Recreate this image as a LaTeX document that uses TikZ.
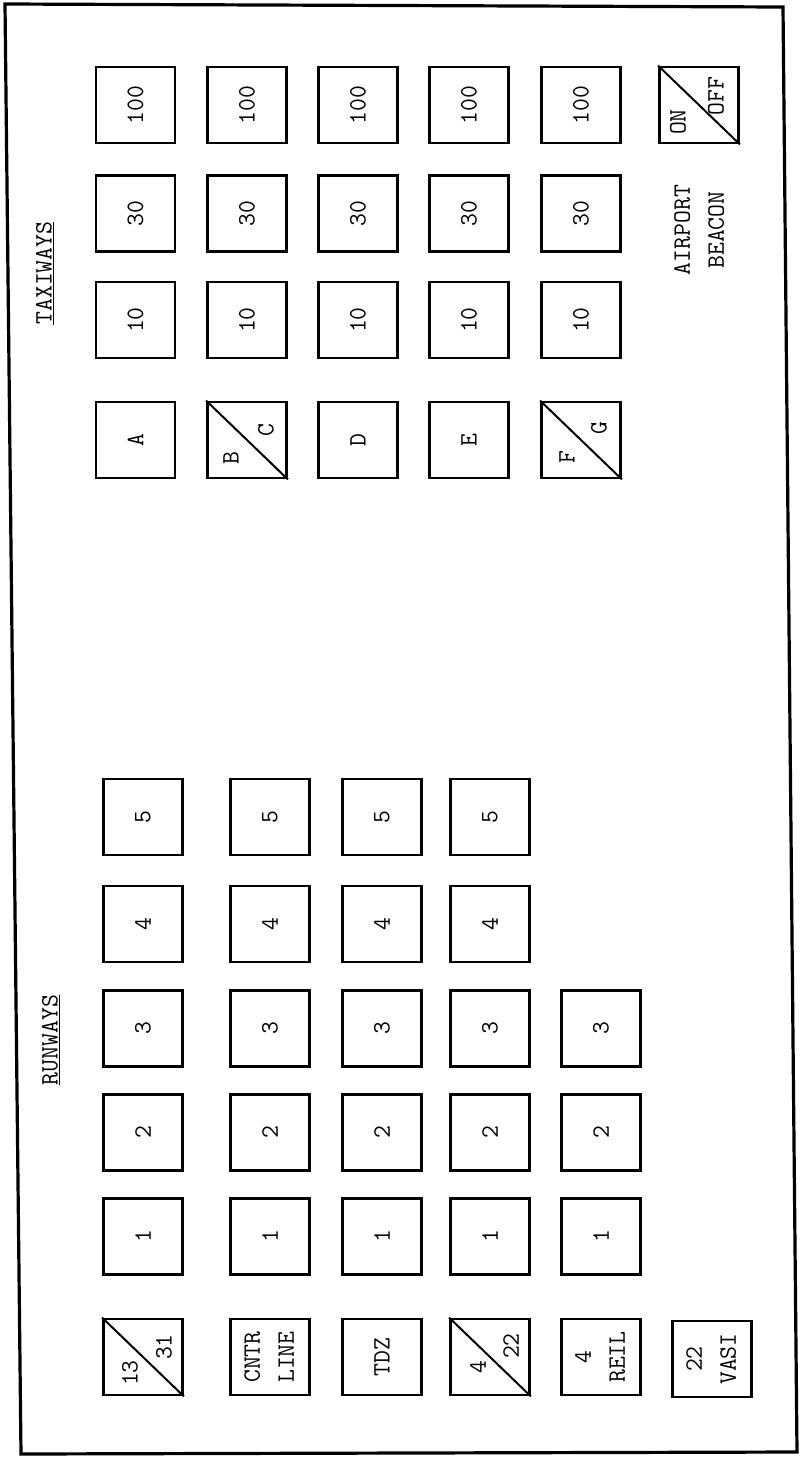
\documentclass[tikz,border=0pt]{standalone}
\usetikzlibrary{calc}
\newcommand\rtext[1]{\rotatebox{90}{#1}}
\newcommand\rtwo[2]{\rotatebox{90}{\begin{tabular}{@{}c@{}}#1\\#2\end{tabular}}}
\begin{document}
\begin{tikzpicture}[x=1pt,y=-1pt,
  panelbox/.style={draw,line width=2.8pt,minimum width=79pt,minimum height=76pt,inner sep=0pt,font=\ttfamily\fontsize{25}{34}\selectfont},
  splitlabel/.style={inner sep=0pt,font=\ttfamily\fontsize{25}{34}\selectfont},
  heading/.style={inner sep=0pt,font=\ttfamily\fontsize{25}{34}\selectfont},
  diag/.style={line width=2pt}]
\useasboundingbox (0,0) rectangle (801,1457);
\draw[line width=3.2pt,line join=miter] (5,4) -- (783,7) -- (797,1452) -- (21,1454) -- cycle;

% ---------------- TAXIWAYS ----------------
\node[heading] (taxihead) at (45,273) {\rtext{\underline{TAXIWAYS}}};
\foreach \c/\x in {1/135.5,2/247,3/358,4/469,5/581}{
  \node[panelbox] (t100-\c) at (\x,105) {\rtext{100}};
  \node[panelbox] (t30-\c) at (\x,213.5) {\rtext{30}};
  \node[panelbox] (t10-\c) at (\x,320) {\rtext{10}};
}
\node[panelbox] (tA) at (135.5,440) {\rtext{A}};
\node[panelbox] (tD) at (358,440) {\rtext{D}};
\node[panelbox] (tE) at (469,440) {\rtext{E}};
\node[panelbox] (tBC) at (247,440) {};
\draw[diag] (tBC.north west) -- (tBC.south east);
\node[splitlabel] (tB) at ($(tBC.center)+(-16,18)$) {\rtext{B}};
\node[splitlabel] (tC) at ($(tBC.center)+(19,-10)$) {\rtext{C}};
\node[panelbox] (tFG) at (581,440) {};
\draw[diag] (tFG.north west) -- (tFG.south east);
\node[splitlabel] (tF) at ($(tFG.center)+(-14,17)$) {\rtext{F}};
\node[splitlabel] (tG) at ($(tFG.center)+(18,-12)$) {\rtext{G}};
% airport beacon
\node[panelbox] (onoff) at (699,105) {};
\draw[diag] (onoff.north west) -- (onoff.south east);
\node[splitlabel] (on) at ($(onoff.center)+(-21,17)$) {\rtext{ON}};
\node[splitlabel] (off) at ($(onoff.center)+(17,-9)$) {\rtext{OFF}};
\node[heading] (beacon) at (700,230) {\rtwo{AIRPORT}{BEACON}};

% ---------------- RUNWAYS ----------------
\node[heading] (runhead) at (51,1040) {\rtext{\underline{RUNWAYS}}};
\foreach \c/\x in {1/143,2/270,3/382,4/490}{
  \node[panelbox] (r5-\c) at (\x,817) {\rtext{5}};
  \node[panelbox] (r4-\c) at (\x,924) {\rtext{4}};
}
\foreach \c/\x in {1/143,2/270,3/382,4/490,5/601}{
  \node[panelbox] (r3-\c) at (\x,1028.5) {\rtext{3}};
  \node[panelbox] (r2-\c) at (\x,1132.5) {\rtext{2}};
  \node[panelbox] (r1-\c) at (\x,1236.5) {\rtext{1}};
}
\node[panelbox] (rw1331) at (143,1357) {};
\draw[diag] (rw1331.north west) -- (rw1331.south east);
\node[splitlabel] (r13) at ($(rw1331.center)+(-13,16)$) {\rtext{13}};
\node[splitlabel] (r31) at ($(rw1331.center)+(21,-10)$) {\rtext{31}};
\node[panelbox] (cntr) at (270,1357) {\rtwo{CNTR}{LINE}};
\node[panelbox] (tdz) at (382,1357) {\rtext{TDZ}};
\node[panelbox] (rw422) at (490,1357) {};
\draw[diag] (rw422.north west) -- (rw422.south east);
\node[splitlabel] (r4l) at ($(rw422.center)+(-12,10)$) {\rtext{4}};
\node[splitlabel] (r22) at ($(rw422.center)+(21,-11)$) {\rtext{22}};
\node[panelbox] (reil) at (601,1357) {\rtwo{4}{REIL}};
\node[panelbox] (vasi) at (712,1359) {\rtwo{22}{VASI}};
\end{tikzpicture}
\end{document}
